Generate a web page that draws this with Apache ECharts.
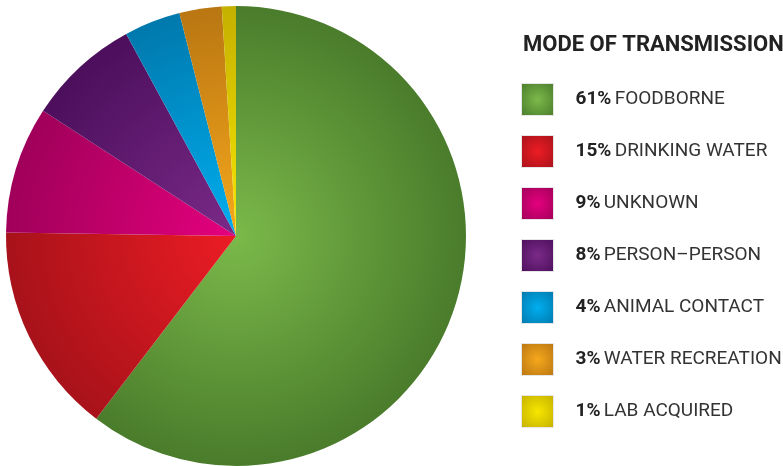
<!DOCTYPE html>
<html>
<head>
<meta charset="utf-8">
<script src="https://cdn.jsdelivr.net/npm/echarts@6/dist/echarts.min.js"></script>
<style>
  html, body { margin: 0; padding: 0; background: #fff; }
  #chart { width: 783px; height: 466px; }
</style>
</head>
<body>
<div id="chart"></div>
<script>
const categories = ['FOODBORNE', 'DRINKING WATER', 'UNKNOWN', 'PERSON–PERSON', 'ANIMAL CONTACT', 'WATER RECREATION', 'LAB ACQUIRED']
const values = [61, 15, 9, 8, 4, 3, 1]
const percentLabels = ['61%', '15%', '9%', '8%', '4%', '3%', '1%']
// light centre / dark rim for each slice
const innerColors = ['#7bb94a', '#ec1c24', '#e5007d', '#7a2a88', '#00aeef', '#f6a81c', '#f7e600']
const outerColors = ['#4a7c2b', '#a8121a', '#a0005a', '#4c0f5c', '#0079ad', '#b97612', '#c4b000']

const font = '"Roboto", sans-serif'
const cx = 236, cy = 236, R = 230

const myChart = echarts.init(document.getElementById('chart'))

const sliceGrad = (i) => ({
  type: 'radial', x: cx, y: cy, r: R, global: true,
  colorStops: [{ offset: 0, color: innerColors[i] }, { offset: 1, color: outerColors[i] }]
})
const boxGrad = (i) => ({
  type: 'radial', x: 0.5, y: 0.5, r: 0.7,
  colorStops: [{ offset: 0, color: innerColors[i] }, { offset: 1, color: outerColors[i] }]
})

myChart.setOption({
  animation: false,
  title: {
    text: 'MODE OF TRANSMISSION',
    left: 518,
    top: 29,
    textStyle: { fontFamily: font, fontWeight: 'bold', fontSize: 22, color: '#222' }
  },
  legend: {
    orient: 'vertical',
    left: 521,
    top: 83,
    padding: 0,
    itemWidth: 32,
    itemHeight: 32,
    itemGap: 19,
    icon: 'rect',
    data: categories.map((c, i) => ({ name: c, itemStyle: { color: boxGrad(i), borderColor: '#e6e6e6', borderWidth: 1 } })),
    formatter: (name) => {
      const i = categories.indexOf(name)
      return '{p|' + percentLabels[i] + '} {n|' + name + '}'
    },
    textStyle: {
      padding: [0, 0, 0, 17],
      rich: {
        p: { fontFamily: font, fontWeight: 'bold', fontSize: 19, color: '#222' },
        n: { fontFamily: font, fontSize: 19, color: '#333' }
      }
    }
  },
  series: [
    {
      type: 'pie',
      center: [cx, cy],
      radius: [0, R],
      startAngle: 90,
      clockwise: true,
      label: { show: false },
      labelLine: { show: false },
      emphasis: { disabled: true },
      data: categories.map((c, i) => ({ name: c, value: values[i], itemStyle: { color: sliceGrad(i) } }))
    }
  ]
})
</script>
</body>
</html>
